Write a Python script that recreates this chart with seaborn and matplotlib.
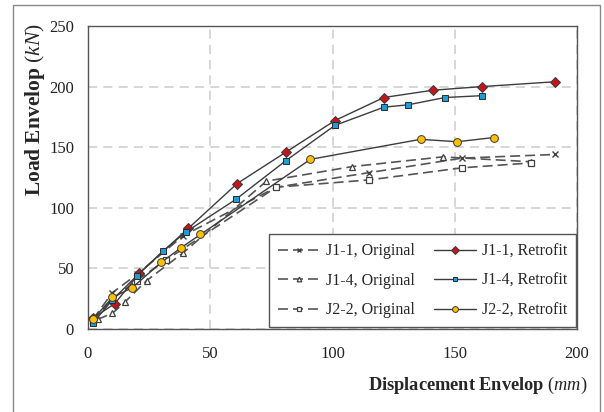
import matplotlib
matplotlib.use("Agg")
import matplotlib.pyplot as plt
import matplotlib.patches as patches
import seaborn as sns
import pandas as pd

# Envelope data (displacement mm, load kN)
j11_orig_x = [2, 10, 20, 39, 77, 115, 153, 191]
j11_orig_y = [8, 30, 45, 77, 117, 129, 141, 144]
j14_orig_x = [4, 10, 15, 24, 39, 73, 108, 145, 181]
j14_orig_y = [8, 13, 22, 40, 63, 122, 134, 142, 138]
j22_orig_x = [2, 10, 20, 32, 77, 115, 153, 181]
j22_orig_y = [7, 25, 40, 57, 117, 123, 133, 137]

j11_retro_x = [2, 11, 21, 41, 61, 81, 101, 121, 141, 161, 191]
j11_retro_y = [9, 21, 46, 83, 120, 146, 172, 191, 197, 200, 204]
j14_retro_x = [2, 10, 20, 30.5, 40, 60.5, 81, 101, 121, 131, 146, 161]
j14_retro_y = [5, 24, 44, 64, 80, 107, 139, 168, 183, 185, 191, 192.5]
j22_retro_x = [2, 10, 18, 30, 38, 46, 91, 136, 151, 166]
j22_retro_y = [8, 26, 34, 55, 67, 78, 140, 156.5, 154.5, 158]

series = [
    ("J1-1, Original", j11_orig_x, j11_orig_y),
    ("J1-4, Original", j14_orig_x, j14_orig_y),
    ("J2-2, Original", j22_orig_x, j22_orig_y),
    ("J1-1, Retrofit", j11_retro_x, j11_retro_y),
    ("J1-4, Retrofit", j14_retro_x, j14_retro_y),
    ("J2-2, Retrofit", j22_retro_x, j22_retro_y),
]

styles = {
    "J1-1, Original": dict(marker="x", ms=4.5, mfc="#404040", mec="#404040", mew=1.0),
    "J1-4, Original": dict(marker="^", ms=4.5, mfc="white", mec="#404040", mew=0.9),
    "J2-2, Original": dict(marker="s", ms=4, mfc="white", mec="#404040", mew=0.9),
    "J1-1, Retrofit": dict(marker="D", ms=5.2, mfc="#c0161c", mec="#3a3a3a", mew=0.7),
    "J1-4, Retrofit": dict(marker="s", ms=4.3, mfc="#1f9bd6", mec="#2a2a2a", mew=0.7),
    "J2-2, Retrofit": dict(marker="o", ms=5.6, mfc="#ffc000", mec="#3a3a3a", mew=0.7),
}

sns.set_style("whitegrid")
plt.rcParams["font.family"] = ["Liberation Serif", "DejaVu Serif"]
plt.rcParams["mathtext.fontset"] = "custom"
plt.rcParams["mathtext.rm"] = "Liberation Serif"
plt.rcParams["mathtext.it"] = "Liberation Serif:italic"
plt.rcParams["mathtext.bf"] = "Liberation Serif:bold"

fig = plt.figure(figsize=(6.04, 4.12), dpi=100)
ax = fig.add_axes([88 / 604, 1 - 329 / 412, (577 - 88) / 604, (329 - 26) / 412])

for name, xs, ys in series:
    df = pd.DataFrame({"x": xs, "y": ys})
    st = styles[name]
    dashed = "Original" in name
    sns.lineplot(data=df, x="x", y="y", ax=ax, sort=False, label=name,
                 color="#555555" if dashed else "#3c3c3c",
                 linewidth=1.2 if dashed else 1.0,
                 linestyle=(0, (6, 3)) if dashed else "-",
                 marker=st["marker"], markersize=st["ms"],
                 markerfacecolor=st["mfc"], markeredgecolor=st["mec"],
                 markeredgewidth=st["mew"], zorder=3)

ax.set_xlim(0, 200)
ax.set_ylim(0, 250)
ax.set_xticks([0, 50, 100, 150, 200])
ax.set_yticks([0, 50, 100, 150, 200, 250])
ax.grid(True, color="#cccccc", linestyle=(0, (6, 4)), linewidth=1.1)
ax.tick_params(axis="x", length=0, pad=12, labelsize=12, labelcolor="#222222")
ax.tick_params(axis="y", length=0, pad=10, labelsize=12, labelcolor="#222222")
for sp in ax.spines.values():
    sp.set_color("#555555")
    sp.set_linewidth(1.0)

ax.set_xlabel(r"$\mathbf{Displacement\ Envelop}$ ($\mathit{mm}$)", fontsize=13.2, loc="right")
ax.xaxis.set_label_coords(1.022, -0.15)
ax.set_ylabel(r"$\mathbf{Load\ Envelop}$ ($\mathit{kN}$)", fontsize=15.5, loc="top")
ax.yaxis.set_label_coords(-0.084, 1.01)

leg = ax.legend(ncol=2, loc="lower right", bbox_to_anchor=(0.998, 0.006),
                borderaxespad=0, fontsize=11.5, frameon=True, fancybox=False,
                framealpha=1, edgecolor="#555555", handlelength=2.6,
                handletextpad=0.4, columnspacing=1.2, labelspacing=0.85,
                borderpad=0.55, markerscale=0.75)
leg.get_frame().set_linewidth(1.0)

# outer grey frame around the figure
fig.patches.append(patches.Rectangle((13 / 604, -0.02), (600 - 13) / 604, (412 - 5) / 412 + 0.02,
                                     transform=fig.transFigure, fill=False,
                                     edgecolor="#888888", linewidth=1.0))

fig.savefig("out.png", dpi=100)
